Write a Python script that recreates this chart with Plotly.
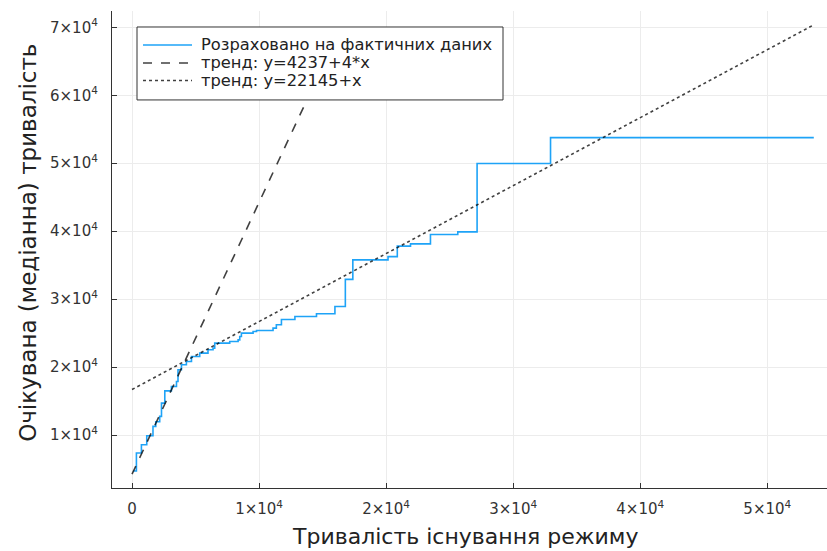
import plotly.graph_objects as go

# Empirical step curve (start of each level, level value)
step_x = [100, 346, 740, 1160, 1650, 1870, 2180, 2320, 2580, 3100, 3500, 3620, 3890,
          4280, 4680, 5330, 5980, 6380, 6510, 7690, 8350, 8480, 8610, 9530, 9800,
          11100, 11360, 11760, 12820, 14520, 15970, 16790, 17380, 20150, 20880,
          21920, 23490, 25640, 27160, 32940, 53660]
step_y = [4700, 7350, 8570, 9900, 11270, 11960, 12740, 14700, 16500, 17150, 17880,
          19600, 20340, 20820, 21560, 22060, 22540, 22790, 23530, 23770, 24010,
          24500, 25000, 25240, 25380, 25730, 26230, 27000, 27440, 27840, 28910,
          32900, 35780, 36250, 37800, 38130, 39500, 39900, 49950, 53760, 53760]

# Trend lines (intercept, slope, x extent)
trend1_a, trend1_b, trend1_x = 4237, 4, [0, 13510]
trend2_a, trend2_b, trend2_x = 16700, 1.0, [0, 53700]

tick_vals_x = [0, 10000, 20000, 30000, 40000, 50000]
tick_text_x = ["0", "1×10<sup>4</sup>", "2×10<sup>4</sup>", "3×10<sup>4</sup>",
               "4×10<sup>4</sup>", "5×10<sup>4</sup>"]
tick_vals_y = [10000, 20000, 30000, 40000, 50000, 60000, 70000]
tick_text_y = [f"{i}×10<sup>4</sup>" for i in range(1, 8)]

names = ["Розраховано на фактичних даних", "тренд: y=4237+4*x", "тренд: y=22145+x"]
x_title = "Тривалість існування режиму"
y_title = "Очікувана (медіанна) тривалість"

BLUE = "#1ea3f7"
DARK = "rgba(0,0,0,0.75)"
styles = [dict(color=BLUE, width=1.6), dict(color=DARK, width=1.6, dash="dash"),
          dict(color=DARK, width=1.6, dash="dot")]

fig = go.Figure()
fig.add_trace(go.Scatter(x=step_x, y=step_y, mode="lines", line_shape="hv",
                         line=styles[0], name=names[0]))
fig.add_trace(go.Scatter(x=trend1_x, y=[trend1_a + trend1_b * v for v in trend1_x],
                         mode="lines", line=styles[1], name=names[1]))
fig.add_trace(go.Scatter(x=trend2_x, y=[trend2_a + trend2_b * v for v in trend2_x],
                         mode="lines", line=styles[2], name=names[2]))

# plot area in pixels (for placing the legend box)
L, R, T, B = 112.0, 827.0, 11.0, 488.3
def px(xp):
    return (xp - L) / (R - L)
def py(yp):
    return (B - yp) / (B - T)

shapes = [dict(type="rect", xref="paper", yref="paper",
               x0=px(137), x1=px(503), y0=py(100), y1=py(27),
               line=dict(color="#333333", width=1), fillcolor="white", layer="above")]
annotations = []
row_y = [45, 63, 80.5]
for i, nm in enumerate(names):
    shapes.append(dict(type="line", xref="paper", yref="paper",
                       x0=px(143), x1=px(192), y0=py(row_y[i]), y1=py(row_y[i]),
                       line=styles[i], layer="above"))
    annotations.append(dict(text=nm, xref="paper", yref="paper", x=px(199), y=py(row_y[i]),
                            xanchor="left", yanchor="middle", showarrow=False,
                            font=dict(family="DejaVu Sans", size=16.3, color="#222222")))

annotations += [
    dict(text=x_title, xref="paper", yref="paper", x=px(465), y=py(537),
         xanchor="center", yanchor="middle", showarrow=False,
         font=dict(family="DejaVu Sans", size=22, color="#222222")),
    dict(text=y_title, xref="paper", yref="paper", x=px(28), y=py(243),
         xanchor="center", yanchor="middle", showarrow=False, textangle=-90,
         font=dict(family="DejaVu Sans", size=23, color="#222222")),
]

axis_common = dict(showgrid=True, gridcolor="#ececec", gridwidth=1, zeroline=False,
                   showline=True, linecolor="#333333", linewidth=1.2,
                   ticks="inside", ticklen=5, tickcolor="#333333", automargin=False,
                   tickfont=dict(family="DejaVu Sans", size=15, color="#333333"))

fig.update_layout(
    width=827, height=551,
    margin=dict(l=112, r=0, t=11, b=63, autoexpand=False),
    paper_bgcolor="white", plot_bgcolor="white",
    font=dict(family="DejaVu Sans", color="#222222"),
    xaxis=dict(range=[-1575, 54700], tickvals=tick_vals_x, ticktext=tick_text_x,
               ticklabelstandoff=7, **axis_common),
    yaxis=dict(range=[2206, 72397], tickvals=tick_vals_y, ticktext=tick_text_y,
               ticklabelstandoff=10, **axis_common),
    showlegend=False,
    shapes=shapes,
    annotations=annotations,
)

fig.write_html("out.html", config={"displayModeBar": False},
               post_script="document.body.style.margin='0';document.body.style.overflow='hidden';")
